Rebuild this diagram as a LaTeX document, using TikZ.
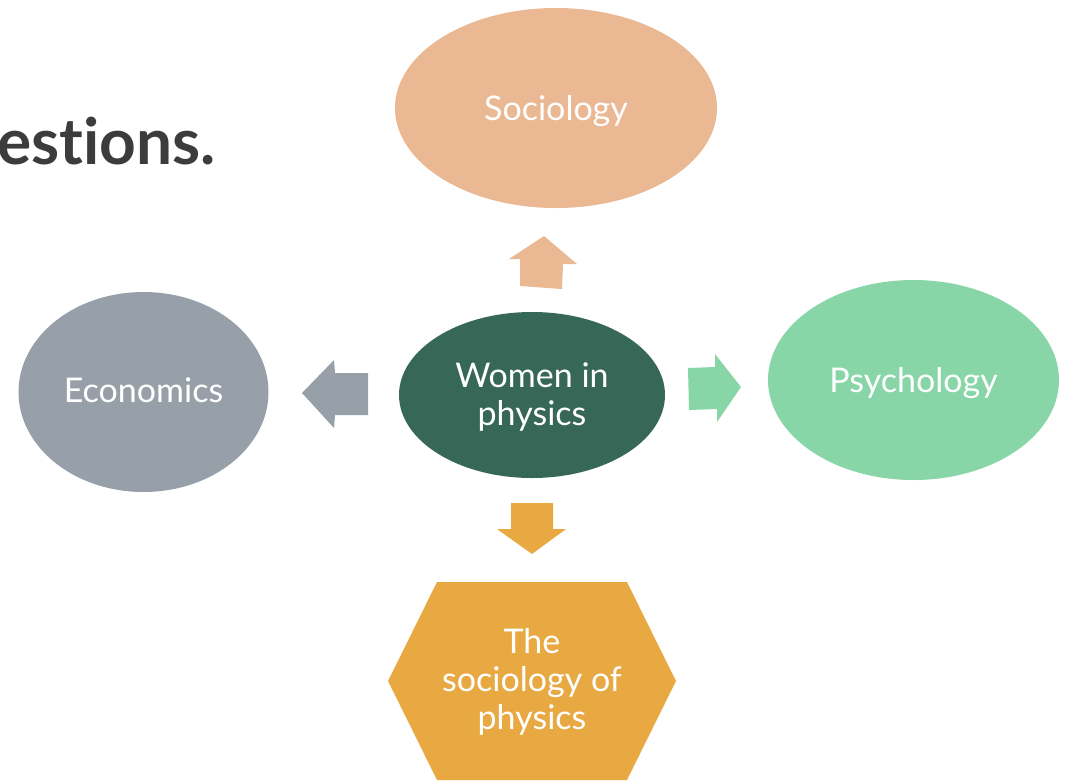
\documentclass[tikz,border=0pt]{standalone}
\usepackage{fontspec}
\setmainfont{Lato}[Ligatures=NoCommon]
\usetikzlibrary{shapes.geometric}
\definecolor{socC}{HTML}{EAB893}
\definecolor{ecoC}{HTML}{97A0A8}
\definecolor{psyC}{HTML}{88D5A8}
\definecolor{midC}{HTML}{376757}
\definecolor{hexC}{HTML}{E8A943}
\definecolor{titleC}{HTML}{3C3C3C}
\tikzset{
  blob/.style={ellipse, inner sep=0pt, text=white, align=center,
    font=\fontsize{34}{38}\selectfont, text height=24pt, text depth=0pt},
}
\begin{document}
\begin{tikzpicture}[x=1pt,y=-1pt]
\useasboundingbox (0,0) rectangle (1066,780);
\clip (0,0) rectangle (1066,780);
% title fragment
\node[anchor=base east, inner sep=0pt, text=titleC,
  font=\bfseries\fontsize{64}{66}\selectfont] (title) at (216,164) {estions.};
% ellipses
\node[blob, fill=socC, minimum width=322pt, minimum height=200pt] (soc) at (556,108) {Sociology};
\node[blob, fill=ecoC, minimum width=250pt, minimum height=200pt, text height=20pt] (eco) at (143.5,392) {Economics};
\node[blob, fill=psyC, minimum width=291pt, minimum height=200pt] (psy) at (913.5,380) {Psychology};
\node[blob, fill=midC, minimum width=266pt, minimum height=166pt, text height=63pt, text depth=3pt] (mid) at (532,395) {Women in\\physics};
% hexagon
\fill[hexC] (437,582) -- (627,582) -- (676,681) -- (627,780) -- (437,780) -- (388,681) -- cycle;
\node[inner sep=0pt, text=white, align=center, font=\fontsize{34}{38}\selectfont,
  text height=101pt, text depth=5pt] (sop) at (532,681) {The\\sociology of\\physics};
% block arrows
\fill[socC] (544,236) -- (577,264) -- (563,264) -- (562,289) -- (520,286) -- (520,259) -- (509,259) -- cycle;
\fill[ecoC] (302,393) -- (334,360) -- (335,373) -- (368,373) -- (368,415) -- (335,415) -- (334,428) -- cycle;
\fill[psyC] (741,387) -- (717,422) -- (717,409) -- (689,410) -- (688,368) -- (715,367) -- (715,354) -- cycle;
\fill[hexC] (532,554) -- (566,529) -- (553,529) -- (553,503) -- (511,503) -- (511,529) -- (497,529) -- cycle;
\end{tikzpicture}
\end{document}
